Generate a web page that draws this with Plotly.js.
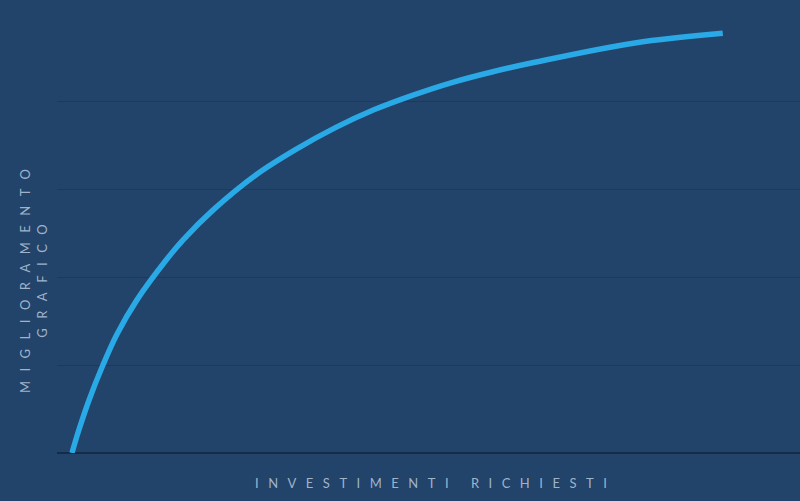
<!DOCTYPE html>
<html>
<head>
<meta charset="utf-8">
<script src="https://cdn.plot.ly/plotly-3.0.1.min.js"></script>
<style>
  html, body { margin: 0; padding: 0; background: #22436a; }
  #chart { width: 800px; height: 501px; }
  .annotation-text { letter-spacing: 9.5px; }
</style>
</head>
<body>
<div id="chart"></div>
<script>
// Investment (x) vs. graphical improvement (y)
const investimenti = [0, 0.92, 2.61, 4.75, 6.90, 9.97, 14.42, 17.02, 21.63, 28.22, 34.36, 40.49, 46.32, 52.45, 58.28, 64.42, 71.01, 86.35, 99.85];
const miglioramento = [0, 0.23, 0.60, 1.00, 1.35, 1.74, 2.19, 2.42, 2.76, 3.16, 3.45, 3.70, 3.90, 4.07, 4.21, 4.33, 4.44, 4.66, 4.77];
const gridValues = [1, 2, 3, 4];
const xTitle = 'INVESTIMENTI RICHIESTI';
const yTitleLines = ['MIGLIORAMENTO', 'GRAFICO'];

const bg = '#22436a';
const textColor = '#9fb3ca';

const trace = {
  x: investimenti,
  y: miglioramento,
  type: 'scatter',
  mode: 'lines',
  line: { color: '#29a9e6', width: 5.5, shape: 'spline', smoothing: 1.0 },
  hoverinfo: 'skip'
};

const layout = {
  width: 800,
  height: 501,
  margin: { l: 57, r: 0, t: 13, b: 48 },
  paper_bgcolor: bg,
  plot_bgcolor: bg,
  showlegend: false,
  xaxis: {
    range: [-2.3, 111.7],
    showgrid: false,
    zeroline: false,
    showticklabels: false,
    ticks: '',
    showline: false,
    fixedrange: true
  },
  yaxis: {
    range: [0, 5],
    tickvals: gridValues,
    showgrid: true,
    gridcolor: '#1c3a5e',
    gridwidth: 1,
    zeroline: true,
    zerolinecolor: '#142c48',
    zerolinewidth: 1.5,
    showticklabels: false,
    ticks: '',
    showline: false,
    fixedrange: true
  },
  annotations: [
    {
      text: xTitle,
      xref: 'paper', yref: 'paper',
      x: 0.509, y: -0.068,
      xanchor: 'center', yanchor: 'middle',
      showarrow: false,
      font: { family: 'Lato, "Open Sans", sans-serif', size: 13, color: textColor }
    },
    {
      text: yTitleLines.join('<br>'),
      xref: 'paper', yref: 'paper',
      x: -0.0323, y: 0.402,
      xanchor: 'center', yanchor: 'middle',
      textangle: -90,
      showarrow: false,
      font: { family: 'Lato, "Open Sans", sans-serif', size: 13, color: textColor }
    }
  ]
};

Plotly.newPlot('chart', [trace], layout, { displayModeBar: false, staticPlot: true });
</script>
</body>
</html>
